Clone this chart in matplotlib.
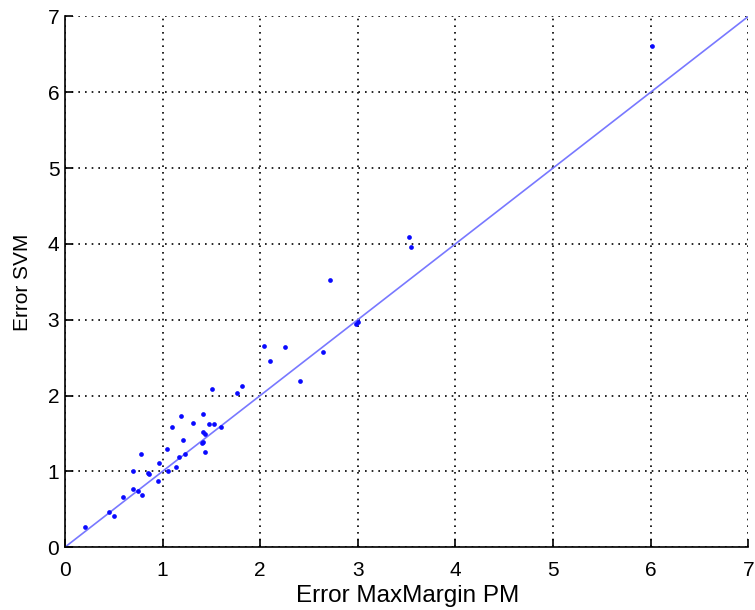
import matplotlib
matplotlib.use("Agg")
import matplotlib.pyplot as plt
import numpy as np

err_maxmargin = [0.205, 0.454, 0.505, 0.598, 0.693, 0.745, 0.793, 0.70, 0.776, 0.847,
                 0.864, 0.95, 0.967, 1.042, 1.052, 1.093, 1.138, 1.168, 1.185, 1.206,
                 1.23, 1.308, 1.418, 1.41, 1.43, 1.40, 1.41, 1.43, 1.48, 1.527,
                 1.60, 1.51, 1.763, 1.817, 2.04, 2.10, 2.255, 2.41, 2.64, 2.716,
                 2.98, 3.00, 3.52, 3.55, 6.016]
err_svm = [0.27, 0.458, 0.414, 0.656, 0.77, 0.74, 0.683, 1.0, 1.228, 0.973,
           0.96, 0.87, 1.11, 1.29, 1.008, 1.58, 1.053, 1.185, 1.73, 1.41,
           1.228, 1.64, 1.75, 1.52, 1.49, 1.37, 1.39, 1.26, 1.62, 1.62,
           1.58, 2.08, 2.03, 2.12, 2.655, 2.457, 2.64, 2.197, 2.57, 3.527,
           2.95, 2.97, 4.086, 3.96, 6.614]
diag = [0, 7]
ticks = [0, 1, 2, 3, 4, 5, 6, 7]

plt.rcParams['font.family'] = ['Liberation Sans', 'DejaVu Sans']

fig = plt.figure(figsize=(7.55, 6.10), dpi=100)
ax = fig.add_axes([0.086, 0.103, 0.905, 0.870])

ax.plot(diag, diag, color='#7878ff', linewidth=1.2, zorder=2)
ax.plot(err_maxmargin, err_svm, linestyle='none', marker='o', markersize=3.4,
        color='#0a0aff', markeredgewidth=0, zorder=3)

ax.set_xlim(0, 7)
ax.set_ylim(0, 7)
ax.set_xticks(ticks)
ax.set_yticks(ticks)
ax.grid(True, color='black', linestyle=(0, (1, 3)), linewidth=1.2)
ax.spines['top'].set_visible(False)
ax.spines['right'].set_visible(False)
for s in ['left', 'bottom']:
    ax.spines[s].set_linewidth(1.2)
ax.tick_params(direction='in', length=6, width=1.2, labelsize=15)
ax.tick_params(axis='x', pad=10)
ax.tick_params(axis='y', pad=4)
ax.set_xlabel('Error MaxMargin PM', fontsize=17.5, va='center')
ax.set_ylabel('Error SVM', fontsize=15, va='center')
ax.xaxis.set_label_coords(0.502, -0.092)
ax.yaxis.set_label_coords(-0.062, 0.5)

fig.savefig('out.png', dpi=100)
